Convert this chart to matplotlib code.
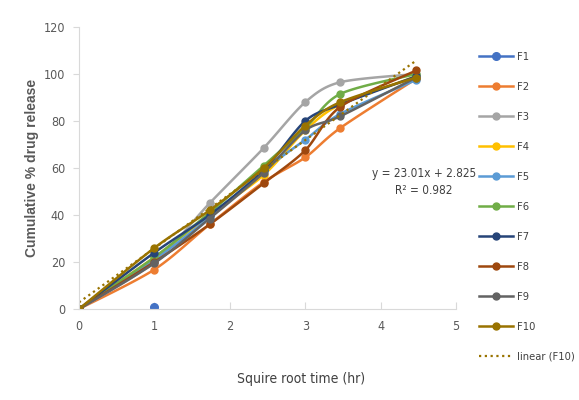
import numpy as np
import matplotlib
matplotlib.use("Agg")
import matplotlib.pyplot as plt

# square root of sampling time (0, 1, 3, 6, 9, 12, 20 h)
sqrt_t = [0, 1, 1.732, 2.449, 3, 3.464, 4.472]

# cumulative % drug release per formulation
f1_x = [1]
f1_y = [1]
f2 = [0, 16.8, 36, 54, 64.5, 77, 98]
f3 = [0, 20, 45, 68.5, 88, 96.5, 100]
f4 = [0, 22, 40, 57, 76, 87, 99]
f5 = [0, 21, 39, 59, 72, 83, 97.5]
f6 = [0, 22, 41, 61, 77, 91.5, 100]
f7 = [0, 24, 40, 59, 80, 87, 99]
f8 = [0, 20, 36, 53.5, 67.5, 86, 101.5]
f9 = [0, 19.5, 38.5, 58, 76, 82, 98.5]
f10 = [0, 26, 42, 60, 78, 88, 98.5]

# linear trend on F10
slope, intercept, r2 = 23.01, 2.825, 0.982

series = [
    ("F2", f2, "#ED7D31"),
    ("F3", f3, "#A5A5A5"),
    ("F4", f4, "#FFC000"),
    ("F5", f5, "#5B9BD5"),
    ("F6", f6, "#70AD47"),
    ("F7", f7, "#264478"),
    ("F8", f8, "#9E480E"),
    ("F9", f9, "#636363"),
    ("F10", f10, "#997300"),
]

NSEG = 20


def smooth(x, y, n=NSEG):
    # bezier smoothing through every point (spreadsheet style)
    p = np.column_stack([x, y]).astype(float)
    pts = []
    for i in range(len(p) - 1):
        p0 = p[i - 1] if i > 0 else p[i]
        p3 = p[i + 2] if i + 2 < len(p) else p[i + 1]
        c1 = p[i] + (p[i + 1] - p0) / 7
        c2 = p[i + 1] - (p3 - p[i]) / 7
        t = np.linspace(0, 1, n, endpoint=False)[:, None]
        seg = ((1 - t) ** 3 * p[i] + 3 * (1 - t) ** 2 * t * c1
               + 3 * (1 - t) * t ** 2 * c2 + t ** 3 * p[i + 1])
        pts.append(seg)
    pts.append(p[-1:])
    pts = np.vstack(pts)
    return pts[:, 0], pts[:, 1]


plt.rcParams["font.family"] = ["DejaVu Sans"]
plt.rcParams["font.stretch"] = "condensed"

fig = plt.figure(figsize=(5.79, 4.0), dpi=100)
ax = fig.add_axes([0.1364, 0.2275, 0.6512, 0.705])

ax.plot(f1_x, f1_y, color="#4472C4", marker="o", markersize=5.5,
        linewidth=1.8, label="F1")

for name, vals, col in series:
    xs, ys = smooth(sqrt_t, vals)
    ax.plot(xs, ys, color=col, linewidth=1.8, marker="o", markersize=5,
            markevery=list(range(0, len(xs), NSEG)), label=name)

xt = np.array([0, sqrt_t[-1]])
ax.plot(xt, slope * xt + intercept, color="#997300", linewidth=1.6,
        linestyle=(0, (1, 1.6)), label="linear (F10)")

ax.text(4.57, 57.5, f"y = {slope}x + {intercept}", ha="center", va="center",
        fontsize=8.5, color="#404040")
ax.text(4.57, 50.5, f"R² = {r2}", ha="center", va="center",
        fontsize=8.5, color="#404040")

ax.set_xlim(0, 5)
ax.set_ylim(0, 120)
ax.set_xticks(range(0, 6))
ax.set_yticks(range(0, 121, 20))
for s in ["top", "right"]:
    ax.spines[s].set_visible(False)
ax.spines["left"].set_color("#D9D9D9")
ax.spines["bottom"].set_color("#D9D9D9")
ax.tick_params(axis="x", direction="in", length=5, color="#D9D9D9",
               labelcolor="#595959", labelsize=9, pad=8)
ax.tick_params(axis="y", direction="out", length=4, color="#D9D9D9",
               labelcolor="#595959", labelsize=9, pad=6)

ax.set_xlabel("Squire root time (hr)", fontsize=10, color="#404040")
ax.xaxis.set_label_coords(0.589, -0.225)
ax.set_ylabel("Cumulative % drug release", fontsize=10, color="#595959",
              fontweight="bold", fontstretch="normal",
              family=["Liberation Sans", "DejaVu Sans"])
ax.yaxis.set_label_coords(-0.105, 0.5)

leg = ax.legend(loc="upper left", bbox_to_anchor=(0.8135, 0.89),
                bbox_transform=fig.transFigure, frameon=False, fontsize=8,
                labelspacing=1.8, handlelength=3.1, handletextpad=0.3,
                borderpad=0.2)
for t in leg.get_texts():
    t.set_color("#404040")

fig.savefig("out.png", dpi=100)
